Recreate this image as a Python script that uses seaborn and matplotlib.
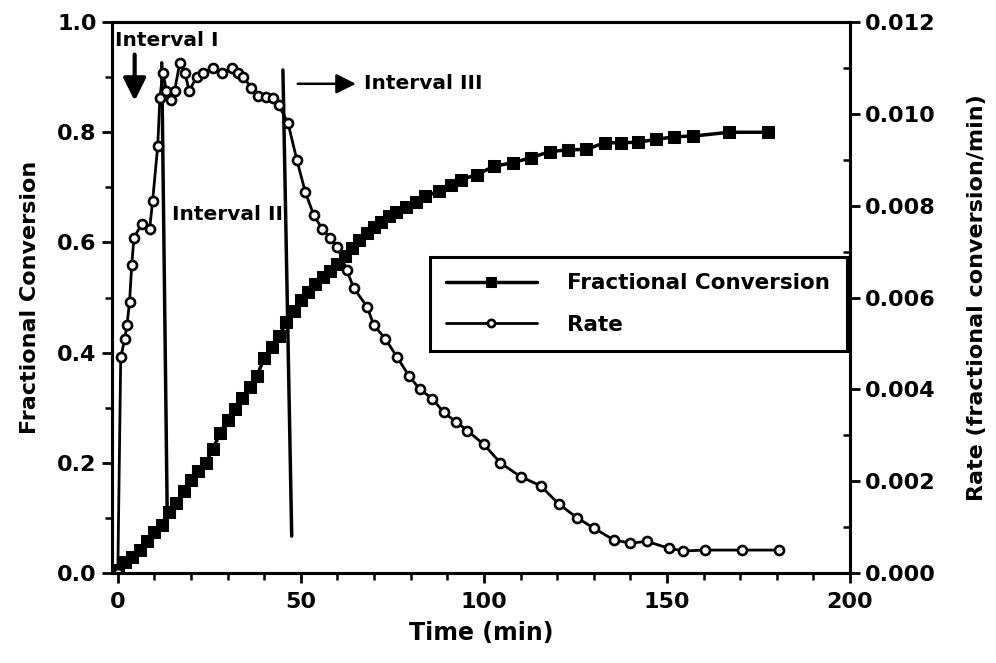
import matplotlib
matplotlib.use("Agg")
import matplotlib.pyplot as plt
import seaborn as sns
from matplotlib.ticker import MultipleLocator, FormatStrFormatter

# Fractional conversion (left axis)
conv_time = [0, 2, 4, 6, 8, 10, 12, 14, 16, 18, 20, 22, 24, 26, 28, 30, 32, 34, 36, 38,
             40, 42, 44, 46, 48, 50, 52, 54, 56, 58, 60, 62, 64, 66, 68, 70, 72, 74, 76,
             78.6, 81.4, 84, 87.7, 91, 93.7, 98, 102.7, 108, 113, 118, 123, 128, 133,
             137.5, 142, 147, 152, 157, 167, 177.6]
conv_value = [0.005, 0.02, 0.03, 0.042, 0.058, 0.075, 0.088, 0.11, 0.128, 0.148, 0.168,
              0.185, 0.2, 0.225, 0.255, 0.278, 0.298, 0.318, 0.338, 0.358, 0.39, 0.41,
              0.43, 0.455, 0.475, 0.495, 0.51, 0.525, 0.537, 0.548, 0.56, 0.575, 0.59,
              0.605, 0.617, 0.628, 0.638, 0.648, 0.655,
              0.664, 0.673, 0.684, 0.693, 0.705, 0.714, 0.723, 0.738, 0.745, 0.754,
              0.765, 0.768, 0.769, 0.781, 0.781, 0.782, 0.787, 0.792, 0.793, 0.80, 0.80]

# Rate (right axis)
rate_time = [0, 0.8, 1.9, 2.5, 3.2, 3.8, 4.4, 6.5, 8.7, 9.5, 10.9, 11.5, 12.3, 13.3, 14.5,
             15.5, 16.9, 18.3, 19.5, 21.5, 23.3, 26, 28.5, 31.1, 32.9, 34.3, 36.5, 38.4,
             40.5, 42.5, 43.9, 46.5, 48.9, 51.2, 53.5, 55.8, 58, 60, 62.5, 64.5, 68.1,
             69.9, 73.1, 76.3, 79.5, 82.5, 85.9, 89, 92.3, 95.5, 100, 104.5, 110, 115.5,
             120.5, 125.5, 130, 135.5, 140, 144.5, 150.5, 154.5, 160.5, 170.5, 180.5]
rate_value = [0.0, 0.0047, 0.0051, 0.0054, 0.0059, 0.0067, 0.0073, 0.0076, 0.0075, 0.0081,
              0.0093, 0.01035, 0.0109, 0.0105, 0.0103, 0.0105, 0.0111, 0.0109, 0.0105,
              0.0108, 0.0109, 0.0110, 0.0109, 0.0110, 0.0109, 0.0108, 0.01057, 0.0104,
              0.01037, 0.01035, 0.0102, 0.0098, 0.0090, 0.0083, 0.0078, 0.0075, 0.0073,
              0.0071, 0.0066, 0.0062, 0.0058, 0.0054, 0.0051, 0.0047, 0.0043, 0.0040,
              0.0038, 0.0035, 0.0033, 0.0031, 0.0028, 0.0024, 0.0021, 0.0019, 0.0015,
              0.0012, 0.00098, 0.00072, 0.00065, 0.00069, 0.00054, 0.00048, 0.0005,
              0.0005, 0.0005]

# interval boundary lines (time at top/bottom, conversion at top/bottom)
bound1_t = [12.0, 13.5]
bound1_y = [0.926, 0.105]
bound2_t = [45.1, 47.5]
bound2_y = [0.913, 0.067]

sns.set_style("ticks")
plt.rcParams['font.family'] = ['DejaVu Sans']
plt.rcParams['font.weight'] = 'bold'
for key in ['text.color', 'axes.labelcolor', 'xtick.color', 'ytick.color', 'axes.edgecolor']:
    plt.rcParams[key] = 'black'

fig = plt.figure(figsize=(9.96, 6.63), dpi=100)
ax = fig.add_axes([0.1124, 0.1357, 0.741, 0.831])
ax2 = ax.twinx()

sns.lineplot(x=conv_time, y=conv_value, ax=ax, color='black', linewidth=2.5,
             marker='s', markersize=9, markeredgecolor='black', markerfacecolor='black',
             label='Fractional Conversion', legend=False)
sns.lineplot(x=rate_time, y=rate_value, ax=ax2, color='black', linewidth=2,
             marker='o', markersize=6.5, markeredgecolor='black', markerfacecolor='white',
             markeredgewidth=1.9, label='Rate', legend=False)

ax.plot(bound1_t, bound1_y, color='black', lw=2.5)
ax.plot(bound2_t, bound2_y, color='black', lw=2.5)

ax.set_xlim(-1.6, 200)
ax.set_ylim(0, 1.0)
ax2.set_ylim(0, 0.012)

ax.xaxis.set_major_locator(MultipleLocator(50))
ax.xaxis.set_minor_locator(MultipleLocator(10))
ax.yaxis.set_major_locator(MultipleLocator(0.2))
ax.yaxis.set_minor_locator(MultipleLocator(0.1))
ax.yaxis.set_major_formatter(FormatStrFormatter('%.1f'))
ax2.yaxis.set_major_locator(MultipleLocator(0.002))
ax2.yaxis.set_minor_locator(MultipleLocator(0.001))
ax2.yaxis.set_major_formatter(FormatStrFormatter('%.3f'))

for a in (ax, ax2):
    for s in a.spines.values():
        s.set_linewidth(2.2)
        s.set_visible(True)
    a.tick_params(which='major', length=7, width=2, labelsize=16, direction='out', pad=4)
    a.tick_params(which='minor', length=5, width=1.8, direction='out')
ax2.tick_params(axis='y', which='minor', direction='in')
ax.tick_params(axis='x', which='major', pad=7)

ax.set_xlabel('Time (min)', fontsize=17, fontweight='bold', labelpad=6)
ax.set_ylabel('Fractional Conversion', fontsize=16, fontweight='bold', labelpad=12)
ax2.set_ylabel('Rate (fractional conversion/min)', fontsize=16, fontweight='bold', labelpad=22)

# annotations
ax.text(-0.8, 0.967, 'Interval I', fontsize=14.5, fontweight='bold', va='center', ha='left')
ax.annotate('', xy=(4.6, 0.852), xytext=(4.6, 0.946),
            arrowprops=dict(arrowstyle='-|>', lw=3, mutation_scale=34, color='black'))
ax.text(14.8, 0.651, 'Interval II', fontsize=14.5, fontweight='bold', va='center', ha='left')
ax.annotate('', xy=(65.8, 0.888), xytext=(48.4, 0.888),
            arrowprops=dict(arrowstyle='-|>', lw=1.8, mutation_scale=30, color='black'))
ax.text(67.3, 0.888, 'Interval III', fontsize=14.5, fontweight='bold', va='center', ha='left')

h1, l1 = ax.get_legend_handles_labels()
h2, l2 = ax2.get_legend_handles_labels()
leg = ax2.legend(h1 + h2, l1 + l2, loc='upper left', bbox_to_anchor=(0.431, 0.401, 0.565, 0.172),
                 mode='expand', borderaxespad=0, fancybox=False, frameon=True,
                 edgecolor='black', fontsize=15.5, handlelength=4.2, handletextpad=1.4,
                 labelspacing=1.0, borderpad=0.75, markerscale=0.8)
leg.get_frame().set_linewidth(2.2)
leg.get_frame().set_alpha(1)

fig.savefig('out.png', dpi=100)
